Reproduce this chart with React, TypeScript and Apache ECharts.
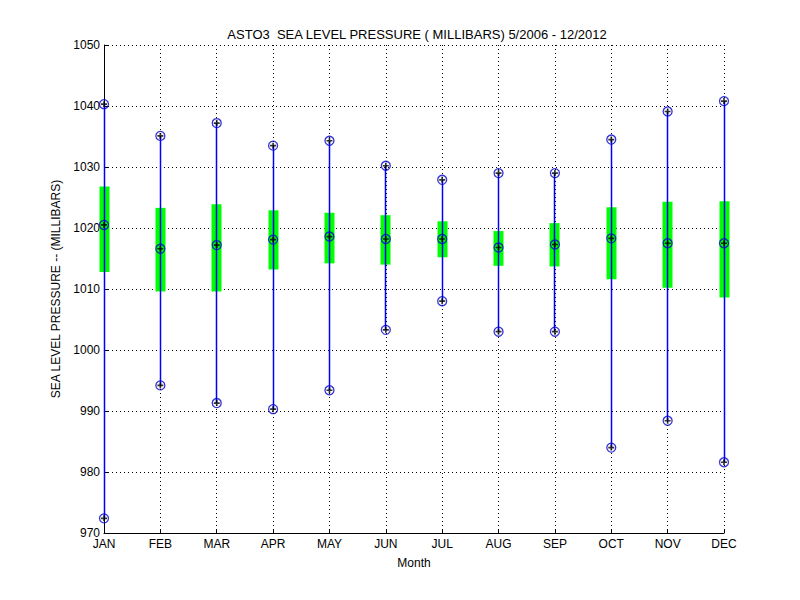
import React, { useEffect, useRef } from "react";
import * as echarts from "echarts";

const MONTHS = ["JAN", "FEB", "MAR", "APR", "MAY", "JUN", "JUL", "AUG", "SEP", "OCT", "NOV", "DEC"];
const MAX_VALS = [1040.3, 1035.1, 1037.2, 1033.5, 1034.3, 1030.2, 1027.9, 1029.0, 1029.0, 1034.5, 1039.1, 1040.8];
const BOX_TOP = [1026.8, 1023.3, 1023.9, 1022.9, 1022.5, 1022.1, 1021.1, 1019.5, 1020.8, 1023.4, 1024.3, 1024.4];
const MEDIAN = [1020.5, 1016.6, 1017.2, 1018.1, 1018.6, 1018.2, 1018.2, 1016.8, 1017.3, 1018.3, 1017.5, 1017.5];
const BOX_BOTTOM = [1012.8, 1009.6, 1009.6, 1013.2, 1014.2, 1014.0, 1015.2, 1013.8, 1013.7, 1011.6, 1010.2, 1008.6];
const MIN_VALS = [972.4, 994.2, 991.3, 990.3, 993.4, 1003.3, 1008.0, 1003.0, 1003.0, 984.0, 988.4, 981.6];
const Y_TICKS = { min: 970, max: 1050, interval: 10 };

const FONT = "'Liberation Sans', Arial, Helvetica, sans-serif";

const col = (v: number) => Math.floor(v);

export default function App() {
  const ref = useRef<HTMLDivElement>(null);
  useEffect(() => {
    if (!ref.current) return;
    const chart = echarts.init(ref.current, null, { renderer: "svg" });
    const xs = MONTHS.map((_, i) => i + 1);
    const boxData = xs.map((x, i) => [x, BOX_BOTTOM[i], BOX_TOP[i]]);
    const whiskerData = xs.map((x, i) => [x, MIN_VALS[i], MAX_VALS[i]]);
    const points: number[][] = [];
    xs.forEach((x, i) => {
      points.push([x, MAX_VALS[i]]);
      points.push([x, MEDIAN[i]]);
      points.push([x, MIN_VALS[i]]);
    });
    const dotted = { color: "#000", width: 1, type: [1, 3] as any };
    chart.setOption({
      animation: false,
      backgroundColor: "#fff",
      textStyle: { fontFamily: FONT },
      title: {
        text: "ASTO3  SEA LEVEL PRESSURE ( MILLIBARS) 5/2006 - 12/2012",
        left: 412,
        top: 23,
        textAlign: "center",
        textStyle: { fontFamily: FONT, fontSize: 13, fontWeight: "normal", color: "#000" },
      },
      grid: { left: 104, right: 76, top: 45, bottom: 67, containLabel: false },
      xAxis: {
        type: "value",
        min: 1,
        max: 12,
        interval: 1,
        name: "Month",
        nameLocation: "middle",
        nameGap: 24,
        nameTextStyle: { fontFamily: FONT, fontSize: 12, color: "#000" },
        axisLine: { show: true, onZero: false, lineStyle: { color: "#000", width: 1 } },
        axisTick: { show: true, inside: true, length: 4, lineStyle: { color: "#000" } },
        axisLabel: {
          color: "#000",
          fontFamily: FONT,
          fontSize: 12,
          margin: 5,
          formatter: (v: number) => MONTHS[Math.round(v) - 1] || "",
        },
        splitLine: { show: true, lineStyle: dotted },
      },
      yAxis: {
        type: "value",
        min: Y_TICKS.min,
        max: Y_TICKS.max,
        interval: Y_TICKS.interval,
        name: "SEA LEVEL PRESSURE -- (MILLIBARS)",
        nameLocation: "middle",
        nameRotate: 90,
        nameGap: 34,
        nameTextStyle: { fontFamily: FONT, fontSize: 12, color: "#000" },
        axisLine: { show: true, onZero: false, lineStyle: { color: "#000", width: 1 } },
        axisTick: { show: true, inside: true, length: 4, lineStyle: { color: "#000" } },
        axisLabel: {
          color: "#000",
          fontFamily: FONT,
          fontSize: 12,
          margin: 4,
          formatter: (v: number) => String(v),
        },
        splitLine: { show: true, lineStyle: dotted },
      },
      series: [
        {
          type: "custom",
          name: "box",
          data: boxData,
          encode: { x: 0, y: [1, 2] },
          renderItem: (params: any, api: any) => {
            const x = api.value(0);
            const lo = api.coord([x, api.value(1)]);
            const hi = api.coord([x, api.value(2)]);
            const w = 10;
            const cx = col(lo[0]) + 0.5;
            return {
              type: "rect",
              shape: { x: cx - w / 2, y: hi[1], width: w, height: lo[1] - hi[1] },
              style: { fill: "#00ff00" },
            };
          },
          z: 2,
        },
        {
          type: "custom",
          name: "whisker",
          data: whiskerData,
          encode: { x: 0, y: [1, 2] },
          z: 3,
          renderItem: (params: any, api: any) => {
            const x = api.value(0);
            const lo = api.coord([x, api.value(1)]);
            const hi = api.coord([x, api.value(2)]);
            return {
              type: "rect",
              shape: { x: col(lo[0]) - 0.25, y: hi[1], width: 1.5, height: lo[1] - hi[1] },
              style: { fill: "#0000ff" },
            };
          },
        },
        {
          type: "scatter",
          name: "rings",
          data: points,
          symbol: "circle",
          symbolSize: 9,
          itemStyle: { color: "rgba(0,0,0,0)", borderColor: "#0000cc", borderWidth: 1.3 },
          z: 4,
        },
        {
          type: "scatter",
          name: "dots",
          data: points,
          symbol: "path://M1.8,0h1.4v1.8h1.8v1.4h-1.8v1.8h-1.4v-1.8h-1.8v-1.4h1.8z",
          symbolSize: 6,
          itemStyle: { color: "#000" },
          z: 5,
        },
      ],
    });
    return () => chart.dispose();
  }, []);
  return (
    <div
      ref={ref}
      style={{ position: "absolute", left: 0, top: 0, width: 800, height: 600, background: "#fff" }}
    />
  );
}
